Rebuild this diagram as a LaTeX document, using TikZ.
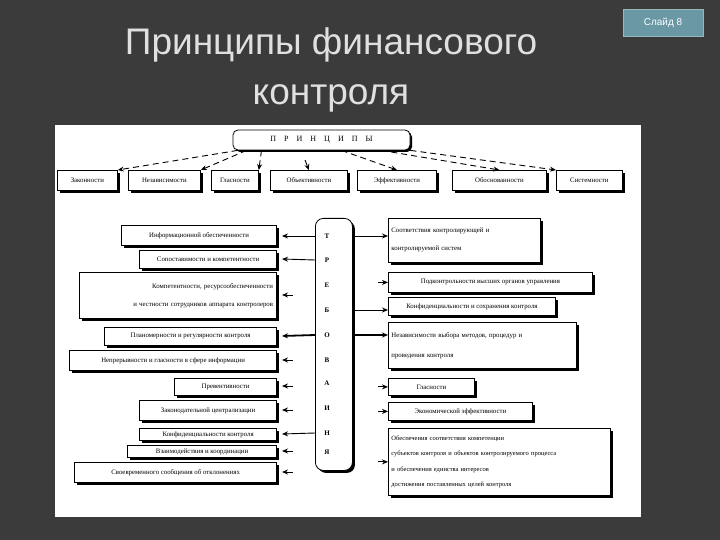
\documentclass[tikz,border=0pt]{standalone}
\usepackage{fontspec}
\setmainfont{Liberation Serif}
\newfontfamily\titlefont{Liberation Sans}
\usetikzlibrary{shadows,arrows.meta,calc}
\definecolor{bgc}{HTML}{3B3B3B}
\definecolor{slc}{HTML}{6A98A4}
\tikzset{
  bx/.style={draw,thick,fill=white,inner sep=1pt,font=\fontsize{6.8}{8}\selectfont,
    drop shadow={shadow xshift=2.5pt,shadow yshift=-2.5pt,fill=black,opacity=1}},
  arr/.style={line width=0.9pt,-{Stealth[length=6pt,width=5pt]}},
  darr/.style={line width=0.9pt,-{Stealth[length=6pt,width=5pt]},dash pattern=on 6pt off 4pt},
  ltr/.style={font=\bfseries\fontsize{7}{8}\selectfont}
}
\begin{document}
\begin{tikzpicture}[x=1pt,y=1pt]
\fill[bgc] (0,0) rectangle (720,-540);
\useasboundingbox (0,0) rectangle (720,-540);
\node[fill=slc,draw=slc!70!white,minimum width=80,minimum height=27,text=white,font=\titlefont\fontsize{10}{12}\selectfont] (sl) at (663,-23) {Слайд 8};
\node[text=white!88!black,font=\titlefont\fontsize{37}{50}\selectfont,align=center] (title) at (331,-70) {Принципы финансового\\контроля};
\fill[white] (55,-125) rectangle (641,-517);
% header
\node[draw,thick,rounded corners=5pt,minimum width=177,minimum height=20,fill=white,font=\fontsize{8}{10}\selectfont,drop shadow={shadow xshift=2pt,shadow yshift=-2pt,fill=black,opacity=1}] (hd) at (321.5,-140) {П\quad Р\quad И\quad Н\quad Ц\quad И\quad П\quad Ы};
% top row
\foreach \n/\a/\b/\t in {t1/57/117/Законности,t2/128/200/Независимости,t3/211/258/Гласности,t4/270/347/Объективности,t5/357/436/Эффективности,t6/452/546/Обоснованности,t7/556/622/Системности}{
  \node[bx,anchor=north west,minimum width=\b-\a,minimum height=20] (\n) at (\a,-170) {\t};
}
\draw[darr] (hd.south west) ++(5,0) coordinate (h1) -- (t1.north east);
\draw[darr] (hd.south) ++(-75,0) coordinate (h2) -- (t2.north east);
\draw[darr] (hd.south) ++(-60,0) coordinate (h3) -- (t3.north east);
\coordinate (h4) at (305,-160);
\draw[darr] (h4) -- (t4.north);
\draw[darr] (hd.south) ++(20,0) coordinate (h5) -- (t5.north);
\draw[darr] (hd.south) ++(60,0) coordinate (h6) -- (t6.north);
\draw[darr] (hd.south east) -- (t7.north west);
% center
\node[draw,thick,rounded corners=8pt,anchor=north west,minimum width=37,minimum height=252,fill=white,drop shadow={shadow xshift=2.5pt,shadow yshift=-2.5pt,fill=black,opacity=1}] (cb) at (315,-218) {};
\foreach \l/\y [count=\i] in {Т/236,Р/260,Е/285,Б/310,О/335,В/360,А/383,И/408,Н/433,Я/452}{
  \node[ltr] (c\i) at (327,-\y) {\l};
}
% left boxes
\tikzset{lbx/.style={bx,anchor=north east,align=right}}
\node[lbx,minimum width=155,minimum height=20] (l1) at (277,-225) {Информационной обеспеченности};
\node[lbx,minimum width=137,minimum height=18] (l2) at (277,-250) {Сопоставимости и компетентности};
\node[lbx,minimum width=197,minimum height=46,text width=190,font=\fontsize{6.8}{18}\selectfont] (l3) at (277,-272) {Компетентности, ресурсообеспеченности\\и честности сотрудников аппарата контролеров};
\node[lbx,minimum width=172,minimum height=18] (l4) at (277,-327) {Планомерности и регулярности контроля};
\node[lbx,minimum width=207,minimum height=20] (l5) at (277,-350) {Непрерывности и гласности в сфере информации};
\node[lbx,minimum width=102,minimum height=17] (l6) at (277,-378) {Превентивности};
\node[lbx,minimum width=137,minimum height=20] (l7) at (277,-400) {Законодательной централизации};
\node[lbx,minimum width=137,minimum height=12] (l8) at (277,-428) {Конфиденциальности контроля};
\node[lbx,minimum width=149,minimum height=12] (l9) at (277,-445) {Взаимодействия и координации};
\node[lbx,minimum width=202,minimum height=20] (l10) at (277,-462) {Своевременного сообщения об отклонениях};
% arrow ends
\coordinate (e1) at (282,-236); \coordinate (e2) at (282,-259);
\coordinate (e4) at (282,-336); \coordinate (e8) at (282,-434);
\coordinate (e3) at (282,-295); \coordinate (s3) at (293,-295);
\coordinate (e5) at (282,-360); \coordinate (s5) at (293,-360);
\coordinate (e6) at (282,-386); \coordinate (s6) at (293,-386);
\coordinate (e7) at (282,-410); \coordinate (s7) at (293,-410);
\coordinate (e9) at (282,-451); \coordinate (s9) at (293,-451);
\coordinate (e10) at (282,-472); \coordinate (s10) at (293,-472);
\draw[arr] (cb.west |- c1) -- (e1);
\draw[arr] (cb.west |- c2) -- (e2);
\draw[arr,line width=1.8pt] (cb.west |- c5) -- (e4);
\draw[arr] (cb.west |- c9) -- (e8);
\draw[arr] (s3) -- (e3);
\draw[arr] (s5) -- (e5);
\draw[arr] (s6) -- (e6);
\draw[arr] (s7) -- (e7);
\draw[arr] (s9) -- (e9);
\draw[arr] (s10) -- (e10);
% right boxes
\tikzset{rbx/.style={bx,anchor=north west,align=left}}
\node[rbx,minimum width=152,minimum height=44,text width=146,font=\fontsize{6.8}{18}\selectfont] (r1) at (388,-218) {Соответствия контролирующей и\\контролируемой систем};
\node[rbx,minimum width=204,minimum height=20] (r2) at (388,-272) {Подконтрольности высших органов управления};
\node[rbx,minimum width=167,minimum height=18] (r3) at (388,-297) {Конфиденциальности и сохранения контроля};
\node[rbx,minimum width=188,minimum height=46,text width=182,font=\fontsize{6.8}{20}\selectfont] (r4) at (388,-322) {Независимости выбора методов, процедур и\\проведения контроля};
\node[rbx,minimum width=86,minimum height=17] (r5) at (388,-378) {Гласности};
\node[rbx,minimum width=144,minimum height=18] (r6) at (388,-402) {Экономической эффективности};
\node[rbx,minimum width=222,minimum height=67,text width=216,font=\fontsize{6.5}{15.5}\selectfont] (r7) at (388,-428) {Обеспечения соответствия компетенции\\субъектов контроля и объектов контролируемого процесса\\и обеспечения единства интересов\\достижения поставленных целей контроля};
\draw[arr] (cb.east |- c1) -- (r1.west |- c1);
\draw[arr] (cb.east |- c4) -- (r3.west |- c4);
\draw[arr,line width=1.8pt] (cb.east |- c5) -- (r4.west |- c5);
\foreach \i in {2,5,6,7}{
  \draw[arr] ([xshift=-10pt]r\i.west) -- (r\i.west);
}
\end{tikzpicture}
\end{document}
